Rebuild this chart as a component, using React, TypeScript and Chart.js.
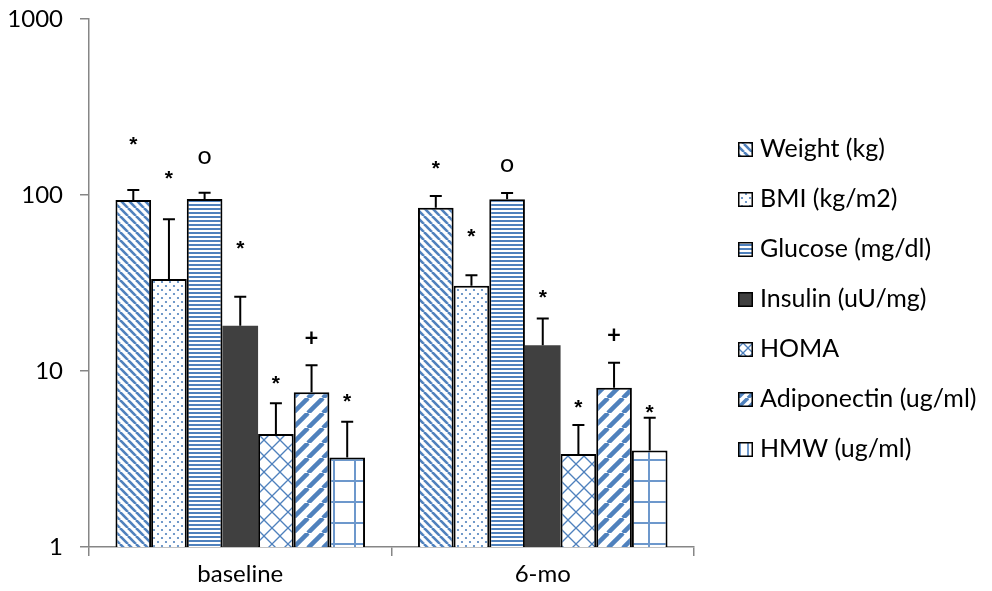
import React, { useEffect, useRef } from "react";
import { Chart, registerables } from "chart.js";

Chart.register(...registerables);

const categories = ["baseline", "6-mo"];
const seriesNames = [
  "Weight (kg)",
  "BMI (kg/m2)",
  "Glucose (mg/dl)",
  "Insulin (uU/mg)",
  "HOMA",
  "Adiponectin (ug/ml)",
  "HMW (ug/ml)",
];

// mean values per category [baseline, 6-mo]
const weight = [93.7, 84.7];
const bmi = [33.3, 30.5];
const glucose = [94.9, 94.6];
const insulin = [18.1, 14.0];
const homa = [4.39, 3.38];
const adiponectin = [7.57, 8.04];
const hmw = [3.22, 3.53];

// upper error (SD) per category
const weightErr = [13.0, 14.0];
const bmiErr = [39.5, 4.5];
const glucoseErr = [8.1, 8.0];
const insulinErr = [8.3, 5.9];
const homaErr = [2.16, 1.55];
const adiponectinErr = [3.2, 3.1];
const hmwErr = [1.93, 1.9];

// significance markers and the value at which each is shown
const markers = ["*", "*", "o", "*", "*", "+", "*"];
const weightMarkAt = [208, 152];
const bmiMarkAt = [133, 62.4];
const glucoseMarkAt = [164, 148];
const insulinMarkAt = [53.4, 28.1];
const homaMarkAt = [9.12, 6.67];
const adiponectinMarkAt = [15.4, 16.0];
const hmwMarkAt = [7.21, 6.24];

const yTicks = [1, 10, 100, 1000];

const values = [weight, bmi, glucose, insulin, homa, adiponectin, hmw];
const errors = [weightErr, bmiErr, glucoseErr, insulinErr, homaErr, adiponectinErr, hmwErr];
const markAt = [weightMarkAt, bmiMarkAt, glucoseMarkAt, insulinMarkAt, homaMarkAt, adiponectinMarkAt, hmwMarkAt];

const BLUE = "#4F81BD";
const FONT = "Lato";

function makePattern(kind: string, small = false): CanvasPattern | string {
  if (kind === "solid") return "#404040";
  const c = document.createElement("canvas");
  const ctx = c.getContext("2d")!;
  let size = 8;
  if (kind === "diagDense") size = 8;
  if (kind === "dots") size = 8;
  if (kind === "hstripe") size = 4;
  if (kind === "cross") size = small ? 10 : 16;
  if (kind === "diagWide") size = small ? 10 : 15;
  if (kind === "grid") size = small ? 8 : 21;
  c.width = size;
  c.height = size;
  ctx.fillStyle = "#ffffff";
  ctx.fillRect(0, 0, size, size);
  ctx.strokeStyle = BLUE;
  ctx.fillStyle = BLUE;
  if (kind === "diagDense") {
    ctx.lineWidth = 2.6;
    for (const x0 of [-size, 0, size]) {
      ctx.beginPath();
      ctx.moveTo(x0, 0);
      ctx.lineTo(x0 + size, size);
      ctx.stroke();
    }
  } else if (kind === "dots") {
    for (const [x, y] of [[2, 2], [6, 6]]) {
      ctx.beginPath();
      ctx.arc(x, y, 1.1, 0, Math.PI * 2);
      ctx.fill();
    }
  } else if (kind === "hstripe") {
    ctx.fillRect(0, 0, size, 2);
  } else if (kind === "cross") {
    ctx.lineWidth = 1.3;
    for (const x0 of [-size, 0, size]) {
      ctx.beginPath();
      ctx.moveTo(x0, 0);
      ctx.lineTo(x0 + size, size);
      ctx.stroke();
      ctx.beginPath();
      ctx.moveTo(x0, size);
      ctx.lineTo(x0 + size, 0);
      ctx.stroke();
    }
  } else if (kind === "diagWide") {
    ctx.lineWidth = small ? 3.5 : 4.5;
    for (const x0 of [-size, 0, size]) {
      ctx.beginPath();
      ctx.moveTo(x0, size);
      ctx.lineTo(x0 + size, 0);
      ctx.stroke();
    }
  } else if (kind === "grid") {
    ctx.fillStyle = "#6d98cc";
    const p = small ? 3 : 10;
    ctx.fillRect(p, 0, 2, size);
    if (!small) ctx.fillRect(0, p, size, 2);
  }
  return ctx.createPattern(c, "repeat")!;
}

const patternKinds = ["diagDense", "dots", "hstripe", "solid", "cross", "diagWide", "grid"];

const extrasPlugin = {
  id: "extras",
  afterDatasetsDraw(chart: any) {
    const ctx = chart.ctx;
    const yScale = chart.scales.y;
    ctx.save();
    // error bars
    ctx.strokeStyle = "#000";
    ctx.lineWidth = 2;
    chart.data.datasets.forEach((ds: any, i: number) => {
      const meta = chart.getDatasetMeta(i);
      meta.data.forEach((el: any, j: number) => {
        const top = yScale.getPixelForValue(values[i][j] + errors[i][j]);
        ctx.beginPath();
        ctx.moveTo(el.x, el.y);
        ctx.lineTo(el.x, top);
        ctx.moveTo(el.x - 6, top);
        ctx.lineTo(el.x + 6, top);
        ctx.stroke();
      });
    });
    // markers
    ctx.fillStyle = "#000";
    ctx.textAlign = "center";
    ctx.textBaseline = "alphabetic";
    const markFont: Record<string, string> = {
      "*": `bold 21px "Liberation Sans"`,
      o: `25px ${FONT}`,
      "+": `bold 24px ${FONT}`,
    };
    const centerEm: Record<string, number> = { "*": 0.58 * 21, o: 0.26 * 25, "+": 0.32 * 24 };
    chart.data.datasets.forEach((ds: any, i: number) => {
      const meta = chart.getDatasetMeta(i);
      meta.data.forEach((el: any, j: number) => {
        const m = markers[i];
        ctx.font = markFont[m];
        const y = yScale.getPixelForValue(markAt[i][j]) + centerEm[m];
        ctx.fillText(m, el.x, y);
      });
    });
    // legend
    const lx = 730;
    const ly0 = 141;
    const step = 50;
    ctx.textAlign = "left";
    ctx.textBaseline = "middle";
    ctx.font = `25px ${FONT}`;
    chart.data.datasets.forEach((ds: any, i: number) => {
      const cy = ly0 + step * i;
      ctx.fillStyle = makePattern(patternKinds[i], true);
      ctx.fillRect(lx, cy - 7, 15, 15);
      ctx.strokeStyle = "#000";
      ctx.lineWidth = 1.5;
      ctx.strokeRect(lx + 0.75, cy - 6.25, 13.5, 13.5);
      ctx.fillStyle = "#000";
      ctx.fillText(seriesNames[i], lx + 22, cy);
    });
    ctx.restore();
  },
};

export default function App() {
  const ref = useRef<HTMLCanvasElement | null>(null);
  useEffect(() => {
    if (!ref.current) return;
    const chart = new Chart(ref.current, {
      type: "bar",
      data: {
        labels: categories,
        datasets: seriesNames.map((name, i) => ({
          label: name,
          data: values[i],
          backgroundColor: makePattern(patternKinds[i]) as any,
          borderColor: "#000",
          borderWidth: i === 3 ? 0 : 2,
          categoryPercentage: 0.825,
          barPercentage: 1,
        })),
      },
      options: {
        animation: false,
        responsive: true,
        maintainAspectRatio: false,
        layout: { padding: { top: 11, right: 290, left: 0, bottom: 0 } },
        plugins: {
          legend: { display: false },
          tooltip: { enabled: false },
        },
        scales: {
          x: {
            grid: {
              offset: true,
              drawOnChartArea: false,
              drawTicks: true,
              tickLength: 9,
              color: "#868686",
              lineWidth: 1.5,
            },
            border: { display: true, color: "#868686", width: 1.5 },
            ticks: {
              color: "#000",
              font: { family: FONT, size: 24 },
              padding: 4,
            },
            afterFit: (s: any) => {
              s.height = 44;
              s.paddingLeft = 0;
              s.paddingRight = 0;
            },
          },
          y: {
            type: "logarithmic",
            min: 1,
            max: 1000,
            grid: {
              drawOnChartArea: false,
              drawTicks: true,
              tickLength: 9,
              color: "#868686",
              lineWidth: 1.5,
            },
            border: { display: true, color: "#868686", width: 1.5 },
            ticks: {
              color: "#000",
              font: { family: FONT, size: 24 },
              padding: 17,
              callback: (v: any) => String(v),
            },
            afterBuildTicks: (s: any) => {
              s.ticks = yTicks.map((v) => ({ value: v }));
            },
            afterFit: (s: any) => {
              s.width = 81;
              s.paddingTop = 0;
              s.paddingBottom = 0;
            },
          },
        },
      },
      plugins: [extrasPlugin],
    });
    return () => chart.destroy();
  }, []);
  return (
    <div style={{ position: "relative", width: 976, height: 583 }}>
      <canvas ref={ref} />
    </div>
  );
}
